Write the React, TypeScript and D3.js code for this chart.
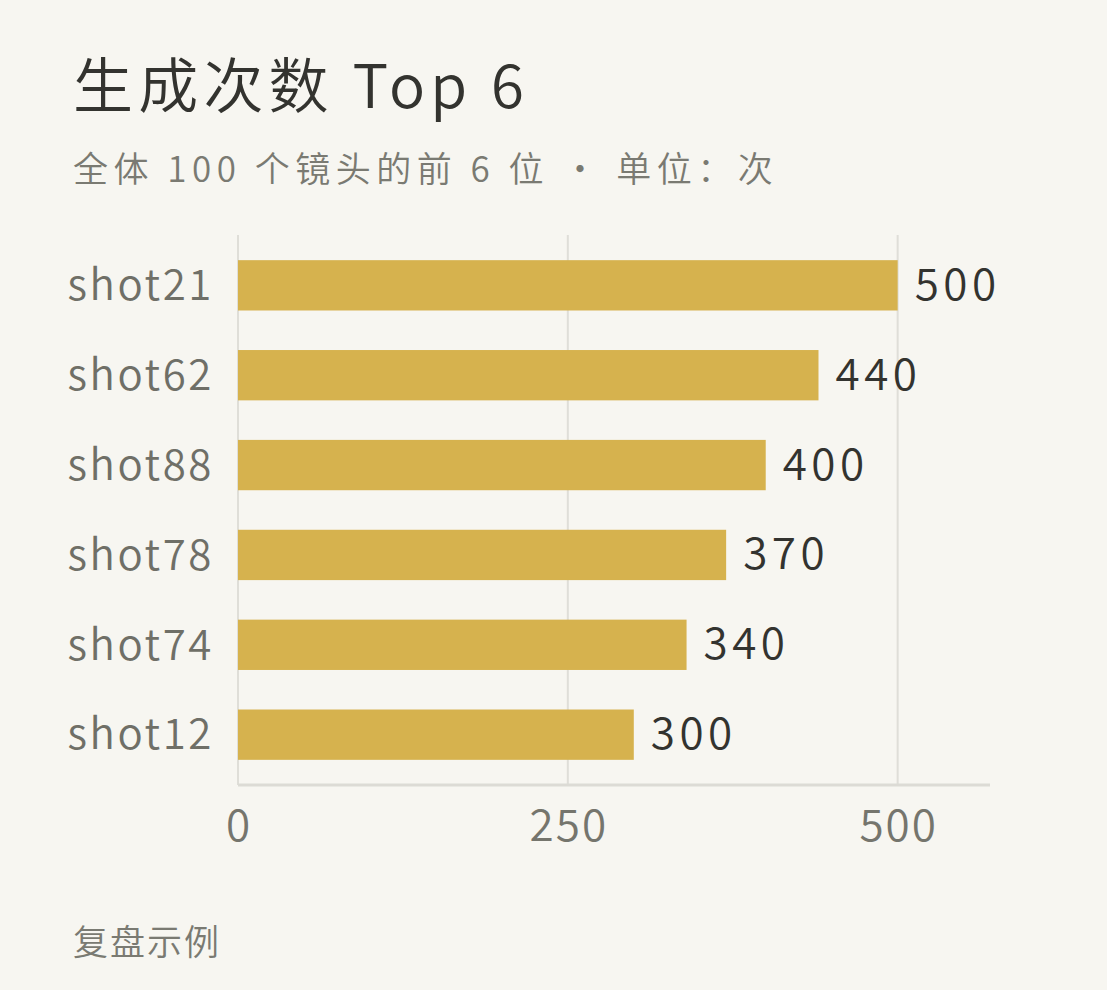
import React from 'react';
import * as d3 from 'd3';

// Data
const shots = ['shot21', 'shot62', 'shot88', 'shot78', 'shot74', 'shot12'];
const counts = [500, 440, 400, 370, 340, 300];
const xTicks = [0, 250, 500];

const W = 1107;
const H = 990;
const FONT = '"Noto Sans CJK SC", "Noto Sans", sans-serif';

const App = () => {
  const x = d3.scaleLinear().domain([0, 570]).range([238, 990]);
  const y = d3.scaleBand<string>().domain(shots).range([235, 785]).paddingInner(0.44).paddingOuter(0.28);
  const bw = y.bandwidth();

  return (
    <svg width={W} height={H} style={{ display: 'block', position: 'absolute', left: 0, top: 0, background: '#f7f6f1' }}>
      <rect width={W} height={H} fill="#f7f6f1" />
      <text x={73} y={108} fontFamily={FONT} fontSize={60} fontWeight={350} letterSpacing={5.2} fill="#33332f">生成次数 Top 6</text>
      <text x={73} y={182} fontFamily={FONT} fontSize={35} fontWeight={350} letterSpacing={5.5} fill="#7a7a72">全体 100 个镜头的前 6 位 ・ 单位：次</text>

      {xTicks.map(t => (
        <line key={`g${t}`} x1={x(t)} x2={x(t)} y1={235} y2={785} stroke="#dfded8" strokeWidth={2} />
      ))}

      {shots.map((s, i) => (
        <g key={s}>
          <rect x={x(0)} y={y(s)} width={x(counts[i]) - x(0)} height={bw} fill="#d6b24e" />
          <text x={214} y={(y(s) ?? 0) + bw / 2} dy="0.35em" textAnchor="end" fontFamily={FONT} fontSize={42} fontWeight={350} letterSpacing={2.6} fill="#6f6f67">{s}</text>
          <text x={x(counts[i]) + 17} y={(y(s) ?? 0) + bw / 2} dy="0.33em" fontFamily={FONT} fontSize={44} fontWeight={350} letterSpacing={4.5} fill="#33332f">{counts[i]}</text>
        </g>
      ))}

      <line x1={x(0)} x2={x.range()[1]} y1={785} y2={785} stroke="#dcdbd5" strokeWidth={3} />
      {xTicks.map(t => (
        <text key={`t${t}`} x={x(t) + 1} y={841} textAnchor="middle" fontFamily={FONT} fontSize={44} fontWeight={350} letterSpacing={2} fill="#75756d">{t}</text>
      ))}

      <text x={73} y={955} fontFamily={FONT} fontSize={35} fontWeight={350} letterSpacing={2} fill="#7a7a72">复盘示例</text>
    </svg>
  );
};

export default App;
